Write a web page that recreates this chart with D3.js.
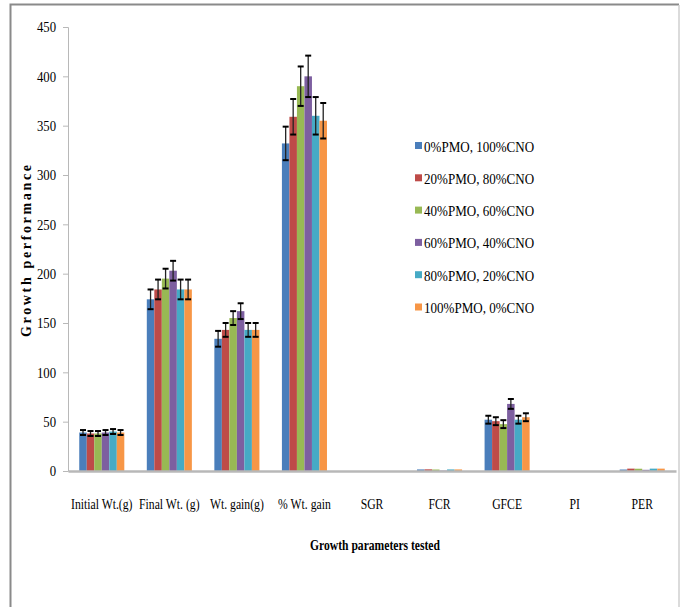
<!DOCTYPE html>
<html>
<head>
<meta charset="UTF-8">
<title>Growth performance</title>
<script src="https://d3js.org/d3.v7.min.js"></script>
<style>
  body { margin: 0; background: #fff; }
  text { font-family: "Liberation Serif", "Times New Roman", serif; fill: #000; }
</style>
</head>
<body>
<div id="chart"></div>
<script>
// categories on the x axis
var params = ["Initial Wt.(g)", "Final Wt. (g)", "Wt. gain(g)", "% Wt. gain", "SGR", "FCR", "GFCE", "PI", "PER"];

// diet series (legend)
var diets = ["0%PMO, 100%CNO", "20%PMO, 80%CNO", "40%PMO, 60%CNO",
             "60%PMO, 40%CNO", "80%PMO, 20%CNO", "100%PMO, 0%CNO"];
var colors = ["#4a7ebb", "#be4b48", "#98b954", "#7d5fa0", "#46aac5", "#f79646"];

// values per diet, one entry per parameter
var d0   = [39, 174, 134, 332, 0, 1.6, 52,   0, 1.5];
var d20  = [38, 184, 143, 359, 0, 1.7, 50.5, 0, 2.4];
var d40  = [38, 195, 155, 390, 0, 1.5, 47.5, 0, 2.3];
var d60  = [39, 203, 162, 400, 0, 0.4, 68,   0, 1.2];
var d80  = [40, 184, 143, 360, 0, 1.6, 52,   0, 2.4];
var d100 = [39, 184, 143, 355, 0, 1.6, 54.5, 0, 2.4];

// standard errors
var e0   = [2.5, 10, 8, 17, 0, 0, 4, 0, 0];
var e20  = [2.5, 10, 7, 18, 0, 0, 4, 0, 0];
var e40  = [2.5, 10, 7, 20, 0, 0, 4, 0, 0];
var e60  = [2.5, 10, 8, 21, 0, 0, 5, 0, 0];
var e80  = [2.5, 10, 7, 19, 0, 0, 4, 0, 0];
var e100 = [2.5, 10, 7, 18, 0, 0, 4, 0, 0];

var yTicks = [0, 50, 100, 150, 200, 250, 300, 350, 400, 450];

var values = [d0, d20, d40, d60, d80, d100];
var errors = [e0, e20, e40, e60, e80, e100];

var W = 680, H = 607;
var margin = {top: 27, right: 4, bottom: 136, left: 68};
var width = 676 - margin.left, height = 471 - margin.top;

var svg = d3.select("#chart").append("svg")
    .attr("width", W).attr("height", H);

// outer frame (bottom edge cut off)
svg.append("path")
    .attr("d", "M10.5," + H + "V4.5H679")
    .attr("fill", "none").attr("stroke", "#8a8a8a").attr("stroke-width", 2);
svg.append("line")
    .attr("x1", 679).attr("x2", 679).attr("y1", 5).attr("y2", H)
    .attr("stroke", "#cfcfcf").attr("stroke-width", 1.5);

var g = svg.append("g")
    .attr("transform", "translate(" + margin.left + "," + margin.top + ")");

var x = d3.scaleBand().domain(params).range([0, width]).paddingInner(0.333).paddingOuter(0.1665);
var x1 = d3.scaleBand().domain(d3.range(diets.length)).range([0, x.bandwidth()]);
var y = d3.scaleLinear().domain([0, 450]).range([height, 0]);

// y axis
var yAxis = g.append("g")
    .call(d3.axisLeft(y).tickValues(yTicks).tickSize(5).tickPadding(6));
yAxis.select(".domain").attr("stroke", "#b8b8b8");
yAxis.selectAll(".tick line").attr("stroke", "#b8b8b8");
yAxis.selectAll("text").attr("font-size", 15)
    .attr("font-family", "Liberation Serif").attr("fill", "#000")
    .attr("x", -12 / 0.85)
    .attr("transform", "scale(0.85,1)");

// bars
var rows = [];
values.forEach(function (vals, s) {
  vals.forEach(function (v, i) {
    rows.push({s: s, p: params[i], v: v, e: errors[s][i]});
  });
});

g.selectAll("rect.bar").data(rows).join("rect")
    .attr("class", "bar")
    .attr("x", d => x(d.p) + x1(d.s))
    .attr("y", d => y(d.v))
    .attr("width", x1.bandwidth())
    .attr("height", d => height - y(d.v))
    .attr("fill", d => colors[d.s]);

// error bars
var eb = g.selectAll("g.err").data(rows.filter(d => d.e > 0)).join("g")
    .attr("class", "err")
    .attr("transform", d => "translate(" + (x(d.p) + x1(d.s) + x1.bandwidth() / 2) + ",0)");
eb.append("line")
    .attr("y1", d => y(d.v + d.e)).attr("y2", d => y(d.v - d.e))
    .attr("stroke", "#222").attr("stroke-width", 1.3);
eb.append("line")
    .attr("x1", -3).attr("x2", 3)
    .attr("y1", d => y(d.v + d.e)).attr("y2", d => y(d.v + d.e))
    .attr("stroke", "#000").attr("stroke-width", 2);
eb.append("line")
    .attr("x1", -3).attr("x2", 3)
    .attr("y1", d => y(d.v - d.e)).attr("y2", d => y(d.v - d.e))
    .attr("stroke", "#000").attr("stroke-width", 2);

// x axis
var xAxis = g.append("g")
    .attr("transform", "translate(0," + height + ")")
    .call(d3.axisBottom(x).tickSize(0).tickPadding(27));
xAxis.select(".domain").attr("stroke", "#b8b8b8").attr("stroke-width", 2.5);
xAxis.selectAll("text").attr("font-size", 15)
    .attr("font-family", "Liberation Serif").attr("fill", "#000")
    .attr("transform", "scale(0.78,1)");

// axis titles
svg.append("text")
    .attr("transform", "translate(31," + (margin.top + height / 2 + 2) + ") rotate(-90)")
    .attr("text-anchor", "middle")
    .attr("font-size", 14).attr("font-weight", "bold")
    .attr("textLength", 172).attr("lengthAdjust", "spacing")
    .text("Growth performance");

svg.append("text")
    .attr("transform", "translate(375,550) scale(0.8,1)")
    .attr("text-anchor", "middle")
    .attr("font-size", 14.5).attr("font-weight", "bold")
    .text("Growth parameters tested");

// legend
var legend = svg.append("g").attr("transform", "translate(415,146)");
var li = legend.selectAll("g").data(diets).join("g")
    .attr("transform", (d, i) => "translate(0," + (i * 32.3) + ")");
li.append("rect")
    .attr("x", 0).attr("y", -4).attr("width", 7).attr("height", 7)
    .attr("fill", (d, i) => colors[i]);
li.append("text")
    .attr("transform", "translate(9,5.5) scale(0.87,1)")
    .attr("font-size", 15)
    .text(d => d);
</script>
</body>
</html>
